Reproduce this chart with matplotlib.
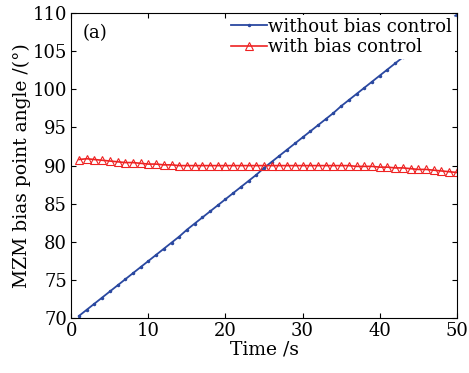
import numpy as np
import matplotlib
matplotlib.use('Agg')
import matplotlib.pyplot as plt

t = np.arange(1, 51)
without_ctrl = [70.3, 71.1, 71.9, 72.7, 73.5, 74.3, 75.1, 75.9, 76.7, 77.5,
                78.3, 79.1, 79.9, 80.7, 81.6, 82.4, 83.2, 84.0, 84.8, 85.6,
                86.4, 87.2, 88.0, 88.8, 89.7, 90.5, 91.3, 92.1, 92.9, 93.7,
                94.5, 95.3, 96.1, 96.9, 97.8, 98.6, 99.4, 100.2, 101.0, 101.8,
                102.6, 103.4, 104.2, 105.0, 105.8, 106.6, 107.4, 108.2, 109.0, 109.8]
with_ctrl = [90.8, 90.9, 90.8, 90.7, 90.6, 90.5, 90.4, 90.4, 90.3, 90.2,
             90.2, 90.1, 90.1, 90.0, 90.0, 90.0, 90.0, 90.0, 90.0, 90.0,
             90.0, 90.0, 90.0, 90.0, 90.0, 90.0, 90.0, 90.0, 90.0, 90.0,
             90.0, 90.0, 90.0, 90.0, 90.0, 90.0, 89.9, 89.9, 89.9, 89.8,
             89.8, 89.7, 89.7, 89.6, 89.5, 89.5, 89.4, 89.3, 89.2, 89.1]

plt.rcParams['font.family'] = 'DejaVu Serif'

fig, ax = plt.subplots(figsize=(4.69, 3.73), dpi=100)
fig.subplots_adjust(left=0.152, right=0.974, top=0.965, bottom=0.147)

ax.plot(t, without_ctrl, color='#2a48a0', marker='.', markersize=3, lw=1.3,
        label='without bias control')
ax.plot(t, with_ctrl, color='#ee2222', marker='^', markersize=5.5, mfc='none',
        mew=0.8, lw=1.2, label='with bias control')

ax.set_xlim(0, 50)
ax.set_ylim(70, 110)
ax.set_xticks(range(0, 51, 10))
ax.set_yticks(range(70, 111, 5))
ax.tick_params(direction='in', top=True, right=True, labelsize=13, pad=3)
ax.set_xlabel('Time /s', fontsize=13.5, labelpad=0)
ax.set_ylabel('MZM bias point angle /(°)', fontsize=13.5, labelpad=1)

ax.text(0.03, 0.965, '(a)', transform=ax.transAxes, fontsize=13, va='top')

leg = ax.legend(loc='upper right', fontsize=13, frameon=True, framealpha=1,
                edgecolor='white', handlelength=2.0, borderpad=0.15,
                labelspacing=0.15, handletextpad=0.1, borderaxespad=0.1)
leg.get_frame().set_linewidth(0)

fig.savefig('out.png', dpi=100)
